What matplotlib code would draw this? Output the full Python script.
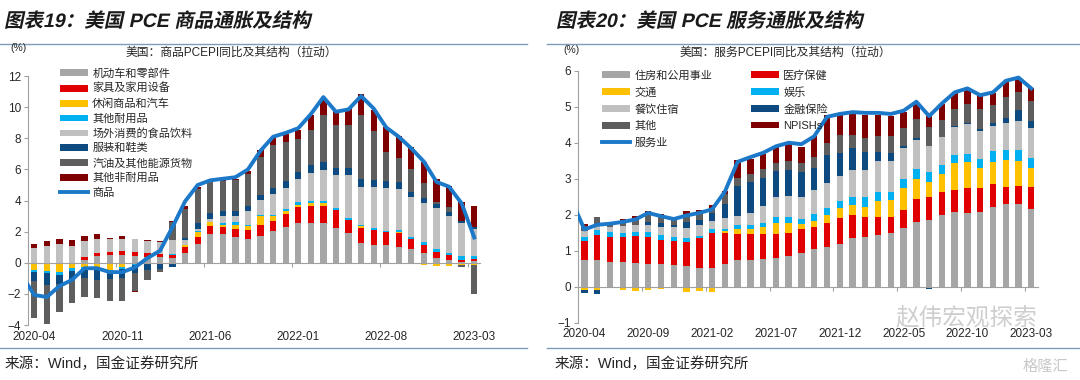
import numpy as np
import matplotlib.pyplot as plt
from matplotlib.lines import Line2D
from matplotlib.textpath import TextPath
from matplotlib.patches import PathPatch
from matplotlib.font_manager import FontProperties
from matplotlib.transforms import Affine2D

plt.rcParams['font.family'] = ['Liberation Sans', 'Noto Sans CJK SC']

# ---------------- data: goods PCE (pull, pct pts), 2020-04 .. 2023-03 ----------------
goods_ticks = ["2020-04", "2020-11", "2021-06", "2022-01", "2022-08", "2023-03"]
goods_names = ["机动车和零部件", "家具及家用设备", "休闲商品和汽车", "其他耐用品",
               "场外消费的食品饮料", "服装和鞋类", "汽油及其他能源货物", "其他非耐用品"]
motor = [0, 0, 0, 0, 0.17, 0.45, 0.49, 0.49, 0.43, 0.39, 0.35, 0.28, 0.62, 1.18, 1.82, 1.84, 1.67, 1.52,
         1.74, 2.04, 2.32, 2.55, 2.57, 2.57, 2.25, 1.89, 1.29, 1.14, 1.14, 1.03, 0.86, 0.6, 0.32, 0.17, 0.06, 0.13]
furniture = [0, 0, -0.05, 0, 0.22, 0.15, 0.21, 0.26, 0.27, 0.21, 0.2, 0.2, 0.4, 0.49, 0.54, 0.48, 0.5, 0.58,
             0.68, 0.64, 0.83, 1.01, 1.1, 1.1, 1.14, 0.85, 0.92, 0.96, 0.85, 0.86, 0.64, 0.54, 0.39, 0.32, 0.15, 0.13]
recreation = [-0.47, -0.53, -0.54, -0.36, -0.3, -0.32, -0.47, -0.3, -0.08, 0, 0, 0.04, 0.12, 0.28, 0.23, 0.11, 0.25, 0.28,
              0.6, 0.34, 0.17, 0.18, 0.15, 0.17, 0.02, 0.02, 0.15, 0.02, -0.05, 0.1, -0.08, -0.15, -0.19, -0.21, -0.17, -0.15]
other_durable = [-0.15, -0.15, -0.21, -0.15, -0.1, -0.15, -0.11, -0.1, -0.08, -0.1, -0.08, 0.02, 0.03, 0.1, 0.05, 0.1, 0.17, 0.08,
                 0.08, 0.08, 0.13, 0.15, 0.13, 0.15, 0.1, 0.1, 0.1, 0.1, 0.07, 0.1, 0.13, 0.17, 0.15, 0.11, 0.22, 0.17]
food_off = [0.92, 1.07, 1.18, 1.07, 0.98, 0.9, 0.82, 0.81, 0.86, 0.81, 0.8, 0.92, 0.32, 0.12, 0.18, 0.47, 0.42, 0.88,
            0.92, 1.33, 1.33, 1.52, 1.84, 1.97, 2.11, 2.8, 2.43, 2.64, 2.76, 2.63, 2.57, 2.51, 2.63, 2.4, 2.14, 1.71]
apparel = [-0.53, -0.75, -0.58, -0.56, -0.6, -0.63, -0.49, -0.58, -0.52, -0.37, -0.35, -0.26, 0.1, 0.36, 0.36, 0.33, 0.33, 0.28,
           0.32, 0.38, 0.47, 0.41, 0.51, 0.54, 0.47, 0.43, 0.47, 0.43, 0.45, 0.49, 0.37, 0.36, 0.28, 0.28, 0.13, 0.13]
gasoline = [-2.42, -2.51, -1.76, -1.5, -1.22, -1.19, -1.37, -1.46, -1.12, -0.64, -0.15, 1.13, 1.88, 2.19, 2.1, 1.93, 2.0, 2.1,
            2.47, 2.75, 2.49, 2.14, 2.21, 3.0, 2.74, 2.78, 4.14, 3.15, 1.87, 1.5, 1.43, 0.92, 0.15, 0.32, -0.09, -1.85]
other_nondur = [0.27, 0.32, 0.38, 0.38, 0.36, 0.34, 0.1, 0.13, -0.06, 0.04, 0.04, 0.09, 0.21, 0.17, 0.05, 0.05, 0.05, 0.2,
                0.43, 0.43, 0.51, 0.56, 0.97, 0.98, 0.9, 1.07, 1.33, 1.4, 1.61, 1.44, 1.42, 1.4, 1.44, 1.35, 1.22, 1.37]
# goods line starts one month earlier (2020-03)
goods_line = [-0.8, -2.07, -2.2, -1.5, -1.1, -0.35, -0.35, -0.6, -0.6, -0.3, 0.3, 0.77, 2.3, 3.95, 5.0, 5.3, 5.4, 5.5, 6.0,
              7.2, 8.1, 8.35, 8.65, 9.55, 10.65, 9.71, 9.86, 10.72, 9.92, 8.7, 8.1, 7.35, 6.5, 5.2, 4.89, 3.82, 1.63]

# ---------------- data: services PCE ----------------
serv_ticks = ["2020-04", "2020-09", "2021-02", "2021-07", "2021-12", "2022-05", "2022-10", "2023-03"]
serv_names = ["住房和公用事业", "医疗保健", "交通", "娱乐", "餐饮住宿", "金融保险", "其他", "NPISHs"]
housing = [0.73, 0.74, 0.69, 0.69, 0.66, 0.63, 0.63, 0.6, 0.57, 0.53, 0.53, 0.63, 0.75, 0.74, 0.76, 0.79, 0.85, 0.94,
           1.04, 1.11, 1.2, 1.34, 1.39, 1.44, 1.5, 1.62, 1.8, 1.85, 1.99, 2.08, 2.04, 2.08, 2.22, 2.29, 2.29, 2.15]
health = [0.55, 0.69, 0.69, 0.69, 0.74, 0.75, 0.66, 0.66, 0.66, 0.83, 0.96, 0.86, 0.71, 0.72, 0.7, 0.67, 0.63, 0.65,
          0.63, 0.67, 0.7, 0.65, 0.54, 0.5, 0.44, 0.51, 0.63, 0.65, 0.65, 0.61, 0.69, 0.65, 0.63, 0.49, 0.52, 0.63]
transport = [-0.09, -0.09, 0, -0.09, -0.12, -0.08, -0.06, 0, -0.14, -0.11, -0.14, 0.06, 0.13, 0.13, 0.19, 0.3, 0.28, 0.15,
             0.16, 0.21, 0.3, 0.28, 0.29, 0.45, 0.47, 0.62, 0.55, 0.42, 0.49, 0.74, 0.74, 0.56, 0.62, 0.74, 0.69, 0.51]
recreation_svc = [0.09, 0.14, 0.14, 0.11, 0.12, 0.14, 0.14, 0.12, 0.11, 0.04, 0.1, 0.06, 0.12, 0.12, 0.13, 0.18, 0.18, 0.15,
                  0.19, 0.21, 0.19, 0.23, 0.26, 0.25, 0.23, 0.25, 0.28, 0.27, 0.25, 0.23, 0.23, 0.27, 0.3, 0.29, 0.31, 0.29]
food_svc = [0.17, 0.14, 0.14, 0.19, 0.2, 0.2, 0.23, 0.28, 0.29, 0.31, 0.23, 0.31, 0.26, 0.35, 0.46, 0.54, 0.58, 0.6,
            0.68, 0.67, 0.68, 0.74, 0.76, 0.86, 0.86, 0.85, 0.81, 0.72, 0.77, 0.77, 0.81, 0.77, 0.7, 0.75, 0.8, 0.82]
finance = [-0.08, -0.11, 0, 0, 0, 0.08, 0.11, 0.06, 0.17, 0.15, 0.23, 0.38, 0.84, 0.86, 0.79, 0.74, 0.72, 0.69,
           0.61, 0.79, 0.65, 0.6, 0.51, 0.25, 0.22, 0.05, 0.05, -0.07, 0.02, 0.03, 0.03, 0.04, 0.09, 0.14, 0.3, 0.21]
other_svc = [0.15, 0.23, 0.11, 0.16, 0.2, 0.25, 0.21, 0.17, 0.23, 0.19, 0.15, 0.28, 0.2, 0.21, 0.23, 0.22, 0.26, 0.25,
             0.28, 0.34, 0.49, 0.37, 0.37, 0.44, 0.47, 0.5, 0.54, 0.52, 0.45, 0.49, 0.53, 0.56, 0.49, 0.56, 0.51, 0.55]
npish = [0.05, 0.0, -0.04, 0.03, 0.05, 0.05, 0.05, 0.02, 0.07, 0.07, 0.07, 0.09, 0.5, 0.41, 0.44, 0.43, 0.48, 0.46,
         0.6, 0.77, 0.56, 0.61, 0.65, 0.58, 0.55, 0.45, 0.44, 0.31, 0.45, 0.42, 0.44, 0.39, 0.34, 0.43, 0.37, 0.35]
serv_line = [2.4, 1.59, 1.72, 1.75, 1.8, 1.87, 2.05, 1.96, 1.88, 1.98, 2.05, 2.15, 2.64, 3.47, 3.6, 3.72, 3.9, 4.0, 3.96,
             4.18, 4.72, 4.8, 4.85, 4.83, 4.83, 4.8, 4.89, 5.14, 4.74, 5.09, 5.4, 5.51, 5.32, 5.4, 5.72, 5.81, 5.51]

GRAY, RED, YEL, LBLUE = '#A6A6A6', '#E00000', '#FFC000', '#00B0F0'
LGRAY, DBLUE, DGRAY, DRED = '#C0C0C0', '#0C4A80', '#5E5E5E', '#7F0000'
LINE = '#1C78C8'
AXC = '#A0A0A0'
TXT = '#262626'


def stacked(ax, series, colors, labels):
    x = np.arange(len(series[0]))
    pos = np.zeros(len(x))
    neg = np.zeros(len(x))
    handles = []
    for vals, c, lab in zip(series, colors, labels):
        v = np.array(vals, dtype=float)
        bottom = np.where(v >= 0, pos, neg)
        h = ax.bar(x, v, bottom=bottom, width=0.5, color=c, label=lab, zorder=2)
        handles.append(h)
        pos += np.clip(v, 0, None)
        neg += np.clip(v, None, 0)
    return handles


def style_axis(ax, ylim, yticks, tick_every, tick_labels):
    n = 36
    ax.set_xlim(-0.5, n - 0.5)
    ax.set_ylim(*ylim)
    ax.set_yticks(yticks)
    for s in ['top', 'right']:
        ax.spines[s].set_visible(False)
    ax.spines['left'].set_color(AXC)
    ax.spines['bottom'].set_color(AXC)
    ax.spines['bottom'].set_position(('data', 0))
    ax.tick_params(axis='y', length=3, color=AXC, labelsize=8.5, labelcolor=TXT, pad=2)
    ax.set_xticks(np.arange(tick_every - 0.5, n, tick_every))
    ax.tick_params(axis='x', length=3, color=AXC, labelbottom=False)
    lab = ax.secondary_xaxis('bottom')
    lab.set_xticks(np.arange(0, n, tick_every), tick_labels)
    lab.tick_params(length=0, labelsize=8.5, labelcolor=TXT, pad=4)
    lab.spines['bottom'].set_visible(False)


def slanted_title(fig, x_px, baseline_px, s, size_px=19.5):
    # bold text sheared to look italic, placed in pixel coordinates
    fp = FontProperties(family=['Liberation Sans', 'Noto Sans CJK SC'], weight='bold')
    tp = TextPath((0, 0), s, size=size_px, prop=fp)
    tr = Affine2D().skew_deg(12, 0).translate(x_px, fig.bbox.height - baseline_px)
    fig.add_artist(PathPatch(tp, transform=tr, color='#1a1a1a', lw=0))


fig = plt.figure(figsize=(10.8, 3.8), dpi=100)

# ---------------- left panel ----------------
ax1 = fig.add_axes([0.0259, 0.1447, 0.419, 0.655])
gh = stacked(ax1, [motor, furniture, recreation, other_durable, food_off, apparel, gasoline, other_nondur],
             [GRAY, RED, YEL, LBLUE, LGRAY, DBLUE, DGRAY, DRED], goods_names)
gl, = ax1.plot(np.arange(-1, 36), goods_line, color=LINE, lw=2.8, zorder=3, label="商品")
style_axis(ax1, (-4, 12), np.arange(-4, 13, 2), 7, goods_ticks)
ax1.legend(gh + [gl], goods_names + ["商品"], loc='upper left', bbox_to_anchor=(60 / 1080, 1 - 68 / 380),
           bbox_transform=fig.transFigure, frameon=False, fontsize=8, borderpad=0, borderaxespad=0,
           handlelength=2.5, handleheight=0.55, handletextpad=0.4, labelspacing=0.4, labelcolor=TXT)

# ---------------- right panel ----------------
ax2 = fig.add_axes([0.5352, 0.1508, 0.4256, 0.663])
sh = stacked(ax2, [housing, health, transport, recreation_svc, food_svc, finance, other_svc, npish],
             [GRAY, RED, YEL, LBLUE, LGRAY, DBLUE, DGRAY, DRED], serv_names)
sl, = ax2.plot(np.arange(-1, 36), serv_line, color=LINE, lw=2.8, zorder=3, label="服务业")
style_axis(ax2, (-1, 6), np.arange(-1, 7, 1), 5, serv_ticks)
order = [0, 2, 4, 6]
h2 = [sh[i] for i in order] + [sl] + [sh[i] for i in [1, 3, 5, 7]]
l2 = [serv_names[i] for i in order] + ["服务业"] + [serv_names[i] for i in [1, 3, 5, 7]]
ax2.legend(h2, l2, ncol=2, loc='upper left', bbox_to_anchor=(602 / 1080, 1 - 70 / 380),
           bbox_transform=fig.transFigure, frameon=False, fontsize=8, borderpad=0, borderaxespad=0,
           handlelength=2.5, handleheight=0.55, handletextpad=0.4, labelspacing=0.58,
           columnspacing=3.5, labelcolor=TXT)

# ---------------- page furniture ----------------
slanted_title(fig, 4, 27, "图表19：美国 PCE 商品通胀及结构")
slanted_title(fig, 556, 27, "图表20：美国 PCE 服务通胀及结构")
for x0, x1 in [(0, 527), (547, 1080)]:
    fig.add_artist(Line2D([x0 / 1080, x1 / 1080], [1 - 44 / 380] * 2, color='#7F9DB9', lw=1))
    fig.add_artist(Line2D([x0 / 1080, x1 / 1080], [1 - 348 / 380] * 2, color='#7F9DB9', lw=1))

fig.text(10 / 1080, 1 - 48 / 380, "(%)", fontsize=7.5, color=TXT, va='center')
fig.text(563 / 1080, 1 - 50 / 380, "(%)", fontsize=7.5, color=TXT, va='center')
fig.text(231 / 1080, 1 - 53 / 380, "美国：商品PCEPI同比及其结构（拉动）", fontsize=8.5, color=TXT,
         ha='center', va='center')
fig.text(785 / 1080, 1 - 53 / 380, "美国：服务PCEPI同比及其结构（拉动）", fontsize=8.5, color=TXT,
         ha='center', va='center')
fig.text(5 / 1080, 1 - 364 / 380, "来源：Wind，国金证券研究所", fontsize=10.5, color=TXT, va='center')
fig.text(555 / 1080, 1 - 364 / 380, "来源：Wind，国金证券研究所", fontsize=10.5, color=TXT, va='center')

# watermarks
fig.text(966 / 1080, 1 - 318 / 380, "赵伟宏观探索", fontsize=17, color='#BEBEBE', alpha=0.75,
         ha='center', va='center', zorder=5)
fig.text(1045 / 1080, 1 - 367 / 380, "格隆汇", fontsize=11, color='#C8C8C8', ha='center', va='center')

fig.savefig("out.png", dpi=100)
